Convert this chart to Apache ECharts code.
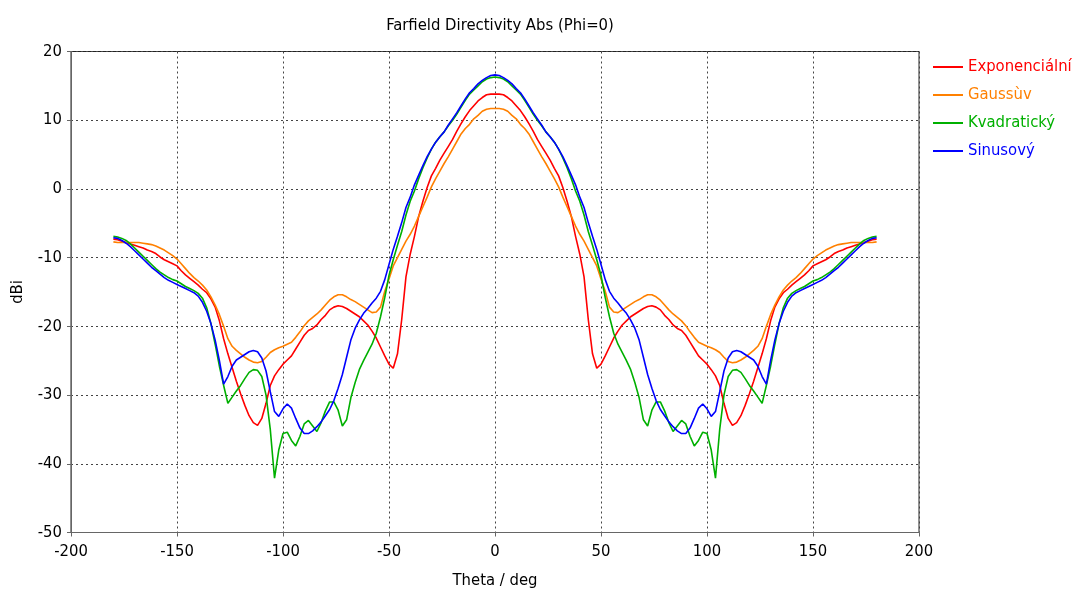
<!DOCTYPE html>
<html>
<head>
<meta charset="utf-8">
<script src="https://cdn.jsdelivr.net/npm/echarts@6/dist/echarts.min.js"></script>
<style>
  html, body { margin: 0; padding: 0; background: #fff; }
  #chart { width: 1078px; height: 592px; }
</style>
</head>
<body>
<div id="chart"></div>
<script>
// Theta sample grid, -180 .. 180 deg in 2 deg steps
const thetaDeg = [];
for (let t = -180; t <= 180; t += 2) thetaDeg.push(t);

// Farfield directivity, dBi, one value per theta sample
const exponencialni = [
  -7.3, -7.4, -7.6, -7.8, -8.0, -8.2, -8.4, -8.6, -8.9, -9.1,
  -9.4, -9.9, -10.3, -10.6, -10.9, -11.2, -11.9, -12.5, -13.0, -13.5,
  -14.0, -14.6, -15.1, -16.0, -17.2, -19.2, -21.8, -24.0, -26.0, -28.0,
  -29.8, -31.5, -33.0, -34.0, -34.4, -33.4, -31.2, -28.6, -27.2, -26.3,
  -25.5, -24.9, -24.3, -23.3, -22.3, -21.3, -20.6, -20.3, -19.8, -19.0,
  -18.4, -17.6, -17.2, -17.0, -17.1, -17.4, -17.8, -18.2, -18.6, -19.2,
  -19.8, -20.7, -21.7, -23.0, -24.3, -25.5, -26.1, -24.0, -19.0, -12.8,
  -9.5, -6.9, -4.0, -1.8, 0.2, 1.9, 3.0, 4.2, 5.2, 6.2,
  7.2, 8.4, 9.5, 10.5, 11.4, 12.1, 12.8, 13.3, 13.7, 13.8,
  13.8,
  13.8, 13.7, 13.3, 12.8, 12.1, 11.4, 10.5, 9.5, 8.4, 7.2,
  6.2, 5.2, 4.2, 3.0, 1.9, 0.2, -1.8, -4.0, -6.9, -9.5,
  -12.8, -19.0, -24.0, -26.1, -25.5, -24.3, -23.0, -21.7, -20.7, -19.8,
  -19.2, -18.6, -18.2, -17.8, -17.4, -17.1, -17.0, -17.2, -17.6, -18.4,
  -19.0, -19.8, -20.3, -20.6, -21.3, -22.3, -23.3, -24.3, -24.9, -25.5,
  -26.3, -27.2, -28.6, -31.2, -33.4, -34.4, -34.0, -33.0, -31.5, -29.8,
  -28.0, -26.0, -24.0, -21.8, -19.2, -17.2, -16.0, -15.1, -14.6, -14.0,
  -13.5, -13.0, -12.5, -11.9, -11.2, -10.9, -10.6, -10.3, -9.9, -9.4,
  -9.1, -8.9, -8.6, -8.4, -8.2, -8.0, -7.8, -7.6, -7.4, -7.3
];

const gaussuv = [
  -7.7, -7.8, -7.8, -7.8, -7.8, -7.8, -7.8, -7.9, -8.0, -8.1,
  -8.3, -8.6, -8.9, -9.3, -9.7, -10.2, -10.9, -11.6, -12.3, -12.9,
  -13.4, -14.0, -14.7, -15.7, -16.9, -18.3, -20.0, -21.8, -22.9, -23.5,
  -24.0, -24.5, -24.9, -25.2, -25.3, -25.1, -24.5, -23.8, -23.4, -23.1,
  -22.9, -22.6, -22.3, -21.6, -20.8, -19.9, -19.2, -18.7, -18.2, -17.6,
  -16.9, -16.2, -15.7, -15.4, -15.4, -15.7, -16.1, -16.4, -16.8, -17.2,
  -17.6, -18.0, -17.9, -17.2, -14.9, -13.1, -11.2, -10.0, -8.8, -7.6,
  -6.6, -5.4, -4.0, -2.6, -1.2, 0.3, 1.5, 2.6, 3.7, 4.7,
  5.8, 6.9, 8.0, 8.8, 9.4, 10.2, 10.7, 11.3, 11.6, 11.7,
  11.7,
  11.7, 11.6, 11.3, 10.7, 10.2, 9.4, 8.8, 8.0, 6.9, 5.8,
  4.7, 3.7, 2.6, 1.5, 0.3, -1.2, -2.6, -4.0, -5.4, -6.6,
  -7.6, -8.8, -10.0, -11.2, -13.1, -14.9, -17.2, -17.9, -18.0, -17.6,
  -17.2, -16.8, -16.4, -16.1, -15.7, -15.4, -15.4, -15.7, -16.2, -16.9,
  -17.6, -18.2, -18.7, -19.2, -19.9, -20.8, -21.6, -22.3, -22.6, -22.9,
  -23.1, -23.4, -23.8, -24.5, -25.1, -25.3, -25.2, -24.9, -24.5, -24.0,
  -23.5, -22.9, -21.8, -20.0, -18.3, -16.9, -15.7, -14.7, -14.0, -13.4,
  -12.9, -12.3, -11.6, -10.9, -10.2, -9.7, -9.3, -8.9, -8.6, -8.3,
  -8.1, -8.0, -7.9, -7.8, -7.8, -7.8, -7.8, -7.8, -7.8, -7.7
];

const kvadraticky = [
  -6.9, -7.0, -7.2, -7.5, -8.0, -8.6, -9.2, -9.8, -10.4, -11.0,
  -11.6, -12.1, -12.5, -12.9, -13.2, -13.4, -13.8, -14.2, -14.5, -14.8,
  -15.2, -15.9, -17.3, -19.6, -22.6, -25.8, -28.6, -31.2, -30.3, -29.4,
  -28.6, -27.6, -26.7, -26.3, -26.4, -27.3, -30.0, -35.0, -42.1, -38.0,
  -35.6, -35.4, -36.6, -37.4, -36.0, -34.2, -33.7, -34.5, -35.3, -34.0,
  -32.3, -31.0, -31.0, -32.2, -34.5, -33.6, -30.4, -28.2, -26.3, -25.0,
  -23.8, -22.6, -21.0, -18.6, -15.8, -12.6, -10.3, -8.2, -6.2, -3.8,
  -1.8, -0.3, 1.5, 3.1, 4.5, 5.8, 6.8, 7.6, 8.3, 9.2,
  10.0, 10.9, 11.9, 12.9, 13.8, 14.4, 15.0, 15.6, 16.0, 16.2,
  16.3,
  16.2, 16.0, 15.6, 15.0, 14.4, 13.8, 12.9, 11.9, 10.9, 10.0,
  9.2, 8.3, 7.6, 6.8, 5.8, 4.5, 3.1, 1.5, -0.3, -1.8,
  -3.8, -6.2, -8.2, -10.3, -12.6, -15.8, -18.6, -21.0, -22.6, -23.8,
  -25.0, -26.3, -28.2, -30.4, -33.6, -34.5, -32.2, -31.0, -31.0, -32.3,
  -34.0, -35.3, -34.5, -33.7, -34.2, -36.0, -37.4, -36.6, -35.4, -35.6,
  -38.0, -42.1, -35.0, -30.0, -27.3, -26.4, -26.3, -26.7, -27.6, -28.6,
  -29.4, -30.3, -31.2, -28.6, -25.8, -22.6, -19.6, -17.3, -15.9, -15.2,
  -14.8, -14.5, -14.2, -13.8, -13.4, -13.2, -12.9, -12.5, -12.1, -11.6,
  -11.0, -10.4, -9.8, -9.2, -8.6, -8.0, -7.5, -7.2, -7.0, -6.9
];

const sinusovy = [
  -7.1, -7.2, -7.5, -7.9, -8.4, -9.0, -9.6, -10.2, -10.8, -11.4,
  -11.9, -12.4, -12.9, -13.3, -13.6, -13.9, -14.2, -14.5, -14.8, -15.1,
  -15.6, -16.5, -17.8, -19.6, -22.0, -25.0, -28.4, -27.3, -25.8, -24.9,
  -24.5, -24.1, -23.7, -23.5, -23.7, -24.6, -26.5, -29.5, -32.4, -33.1,
  -32.0, -31.3, -31.9, -33.4, -34.8, -35.6, -35.6, -35.2, -34.6, -33.9,
  -33.0, -32.1, -30.8, -29.0, -27.0, -24.5, -22.0, -20.3, -19.1, -18.1,
  -17.4, -16.6, -15.9, -14.9, -13.2, -11.0, -8.8, -6.9, -4.9, -2.7,
  -1.2, 0.6, 2.0, 3.4, 4.7, 5.8, 6.8, 7.6, 8.3, 9.3,
  10.2, 11.1, 12.1, 13.1, 14.0, 14.6, 15.3, 15.8, 16.2, 16.5,
  16.6,
  16.5, 16.2, 15.8, 15.3, 14.6, 14.0, 13.1, 12.1, 11.1, 10.2,
  9.3, 8.3, 7.6, 6.8, 5.8, 4.7, 3.4, 2.0, 0.6, -1.2,
  -2.7, -4.9, -6.9, -8.8, -11.0, -13.2, -14.9, -15.9, -16.6, -17.4,
  -18.1, -19.1, -20.3, -22.0, -24.5, -27.0, -29.0, -30.8, -32.1, -33.0,
  -33.9, -34.6, -35.2, -35.6, -35.6, -34.8, -33.4, -31.9, -31.3, -32.0,
  -33.1, -32.4, -29.5, -26.5, -24.6, -23.7, -23.5, -23.7, -24.1, -24.5,
  -24.9, -25.8, -27.3, -28.4, -25.0, -22.0, -19.6, -17.8, -16.5, -15.6,
  -15.1, -14.8, -14.5, -14.2, -13.9, -13.6, -13.3, -12.9, -12.4, -11.9,
  -11.4, -10.8, -10.2, -9.6, -9.0, -8.4, -7.9, -7.5, -7.2, -7.1
];

const seriesNames = ['Exponenciální', 'Gaussùv', 'Kvadratický', 'Sinusový'];
const seriesColors = ['#ff0000', '#ff8000', '#00b000', '#0000ff'];
const seriesValues = [exponencialni, gaussuv, kvadraticky, sinusovy];

const FONT = '"DejaVu Sans Condensed", "DejaVu Sans", sans-serif';
const FS = 16.5;
const TXT = '#000';

const chart = echarts.init(document.getElementById('chart'), null, { renderer: 'canvas' });

chart.setOption({
  animation: false,
  backgroundColor: '#fff',
  textStyle: { fontFamily: FONT },
  title: {
    text: 'Farfield Directivity Abs (Phi=0)',
    left: 495,
    textAlign: 'center',
    top: 12,
    textStyle: { fontFamily: FONT, fontSize: FS, fontWeight: 'normal', color: TXT }
  },
  legend: {
    orient: 'vertical',
    left: 933,
    top: 57,
    padding: 0,
    icon: 'rect',
    itemWidth: 30,
    itemHeight: 2,
    itemGap: 8,
    textStyle: { fontFamily: FONT, fontSize: FS, lineHeight: 20 },
    data: seriesNames.map((n, i) => ({ name: n, textStyle: { color: seriesColors[i] } }))
  },
  grid: {
    left: 71,
    right: 159,
    top: 51.5,
    bottom: 59.5,
    outerBoundsMode: 'none',
    show: true,
    borderColor: '#222',
    borderWidth: 1
  },
  xAxis: {
    type: 'value',
    min: -200,
    max: 200,
    interval: 50,
    name: 'Theta / deg',
    nameLocation: 'middle',
    nameGap: 40,
    nameTextStyle: { fontFamily: FONT, fontSize: FS, color: TXT },
    axisLine: { show: true, onZero: false, lineStyle: { color: '#666', width: 1 } },
    axisTick: { show: true, inside: false, length: 4, lineStyle: { color: '#666' } },
    axisLabel: { fontFamily: FONT, fontSize: FS, color: TXT, margin: 11 },
    splitLine: { show: true, lineStyle: { color: '#444', type: [2, 3], width: 1 } }
  },
  yAxis: {
    type: 'value',
    min: -50,
    max: 20,
    interval: 10,
    name: 'dBi',
    nameLocation: 'middle',
    nameGap: 45,
    nameRotate: 90,
    nameTextStyle: { fontFamily: FONT, fontSize: FS, color: TXT },
    axisLine: { show: true, onZero: false, lineStyle: { color: '#666', width: 1 } },
    axisTick: { show: true, inside: false, length: 4, lineStyle: { color: '#666' } },
    axisLabel: { fontFamily: FONT, fontSize: FS, color: TXT, margin: 9 },
    splitLine: { show: true, lineStyle: { color: '#444', type: [2, 3], width: 1 } }
  },
  series: seriesNames.map((n, i) => ({
    name: n,
    type: 'line',
    symbol: 'none',
    smooth: false,
    color: seriesColors[i],
    lineStyle: { width: 1.6, color: seriesColors[i] },
    data: thetaDeg.map((t, k) => [t, seriesValues[i][k]])
  }))
});
</script>
</body>
</html>
